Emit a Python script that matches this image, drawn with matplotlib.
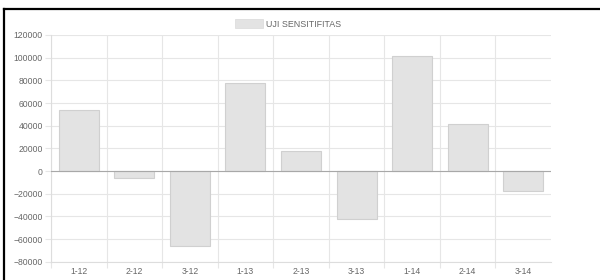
import numpy as np
import matplotlib.pyplot as plt
from matplotlib.lines import Line2D
from matplotlib.patches import Patch

plt.rcParams['font.family'] = ['Liberation Sans', 'DejaVu Sans']

labels = ['1-12', '2-12', '3-12', '1-13', '2-13', '3-13', '1-14', '2-14', '3-14']
values = [54000, -6000, -66000, 78000, 17500, -42000, 101500, 41500, -18000]
series_name = 'UJI SENSITIFITAS'

W, H = 600, 280
fig = plt.figure(figsize=(W / 100, H / 100), dpi=100)
ax = fig.add_axes([51 / W, 1 - 261.7 / H, 500 / W, (261.7 - 35) / H])

x = np.arange(len(labels))
ax.bar(x, values, width=0.72, color='#e3e3e3', edgecolor='#d0d0d0', linewidth=0.8, zorder=2)

ax.set_xlim(-0.5, len(labels) - 0.5)
ax.set_ylim(-80000, 120000)
ax.set_yticks(np.arange(-80000, 120001, 20000))
ax.set_xticks(x)
ax.set_xticklabels(labels)
ax.set_xticks(np.arange(-0.5, len(labels) - 1, 1.0), minor=True)

grid_c = '#e6e6e6'
ax.grid(axis='y', which='major', color=grid_c, linewidth=0.8, zorder=0)
ax.grid(axis='x', which='minor', color=grid_c, linewidth=0.8, zorder=0)
ax.axhline(0, color='#a8a8a8', linewidth=0.8, zorder=3)

ax.tick_params(axis='y', which='major', length=4.3, color=grid_c, width=0.8,
               labelsize=6.2, labelcolor='#666666', pad=1.5)
ax.tick_params(axis='x', which='major', length=0, labelsize=6.2, labelcolor='#666666', pad=3.5)
ax.tick_params(axis='x', which='minor', length=4.3, color=grid_c, width=0.8)

for s in ['top', 'right']:
    ax.spines[s].set_visible(False)
ax.spines['left'].set_color('#dddddd')
ax.spines['bottom'].set_color('#dddddd')
ax.spines['left'].set_linewidth(0.8)
ax.spines['bottom'].set_linewidth(0.8)

handle = Patch(facecolor='#e3e3e3', edgecolor='#dadada', linewidth=0.5)
fig.legend([handle], [series_name], loc='center left', bbox_to_anchor=(229 / W, 1 - 24 / H),
           frameon=False, fontsize=6.4, labelcolor='#666666',
           handlelength=3.1, handleheight=1.1, handletextpad=0.4, borderpad=0.2)

# black frame of the screenshot
fig.add_artist(Line2D([4 / W, 1], [1 - 9.3 / H] * 2, transform=fig.transFigure,
                      color='black', linewidth=1.6))
fig.add_artist(Line2D([4 / W] * 2, [0, 1 - 9.3 / H], transform=fig.transFigure,
                      color='black', linewidth=1.6))

fig.savefig('out.png', dpi=100)
